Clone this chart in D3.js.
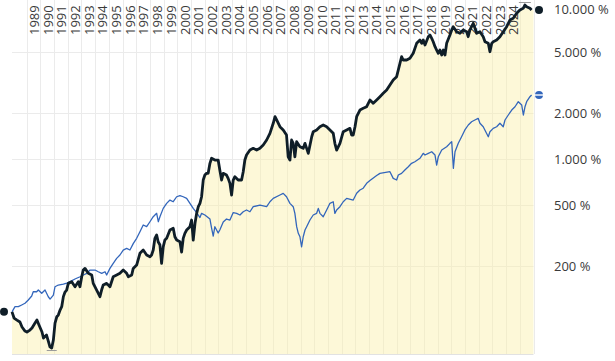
<!DOCTYPE html>
<html><head><meta charset="utf-8">
<script src="https://cdn.jsdelivr.net/npm/d3@7/dist/d3.min.js"></script>
<style>body{margin:0;background:#fff}svg{display:block}</style>
</head><body><svg id="c" width="615" height="361"></svg>
<script>
const blackYears=[1987.93,1988.08,1988.29,1988.51,1988.66,1988.88,1989.02,1989.24,1989.39,1989.61,1989.75,1989.90,1990.12,1990.23,1990.45,1990.56,1990.70,1990.83,1990.95,1991.07,1991.20,1991.31,1991.44,1991.56,1991.68,1991.80,1991.92,1992.04,1992.29,1992.53,1992.77,1992.89,1993.02,1993.13,1993.26,1993.50,1993.75,1993.86,1994.11,1994.35,1994.47,1994.59,1994.84,1995.08,1995.20,1995.32,1995.57,1995.81,1996.05,1996.30,1996.42,1996.67,1996.78,1997.03,1997.27,1997.51,1997.76,1998.00,1998.12,1998.24,1998.36,1998.49,1998.60,1998.73,1998.85,1998.97,1999.09,1999.22,1999.46,1999.70,1999.82,1999.95,2000.19,2000.31,2000.43,2000.55,2000.68,2000.92,2001.04,2001.16,2001.29,2001.41,2001.53,2001.65,2001.77,2001.89,2002.01,2002.13,2002.25,2002.38,2002.50,2002.74,2002.98,2003.10,2003.23,2003.35,2003.59,2003.71,2003.84,2003.96,2004.08,2004.20,2004.44,2004.69,2004.81,2004.93,2005.05,2005.30,2005.54,2005.79,2006.03,2006.27,2006.52,2006.76,2007.00,2007.13,2007.25,2007.49,2007.73,2007.97,2008.09,2008.22,2008.34,2008.46,2008.58,2008.71,2008.95,2009.19,2009.32,2009.56,2009.81,2009.92,2010.17,2010.41,2010.65,2010.90,2011.14,2011.38,2011.50,2011.63,2011.87,2012.11,2012.36,2012.60,2012.72,2012.84,2012.97,2013.09,2013.33,2013.57,2013.82,2014.06,2014.30,2014.55,2014.79,2015.03,2015.28,2015.52,2015.76,2016.01,2016.25,2016.37,2016.49,2016.74,2016.98,2017.22,2017.47,2017.71,2017.84,2017.95,2018.08,2018.32,2018.44,2018.57,2018.68,2018.81,2018.93,2019.05,2019.17,2019.30,2019.42,2019.54,2019.66,2019.90,2020.03,2020.14,2020.39,2020.63,2020.87,2021.12,2021.23,2021.36,2021.60,2021.73,2021.85,2022.09,2022.33,2022.46,2022.70,2022.82,2022.95,2023.06,2023.31,2023.55,2023.79,2024.04,2024.28,2024.52,2024.77,2025.01,2025.25,2025.37,2025.50,2025.74,2025.86];
const blackValues=[100,91.1,88.4,85.8,79.6,74.9,73.8,76.0,78.4,84.5,88.4,82.0,73.8,67.4,70.5,65.4,59.1,58.0,65.4,84.5,92.9,95.3,102.8,108.1,125.8,134.8,138.9,153.6,157.4,146.0,157.4,146.0,169.8,187.8,192.5,178.7,174.2,153.6,138.9,125.6,138.9,149.8,153.6,146.0,157.4,169.8,174.2,178.7,187.8,178.7,169.8,174.2,192.5,202.5,241.6,253.8,235.4,229.4,235.4,253.8,302.8,318.2,287.5,273.7,207.6,266.4,295.1,302.8,343.2,352,310,295.1,287.5,246.2,302.8,326.5,343.2,360.8,399,295.1,379.5,441.3,487.8,513,566.5,729,786,806,806,937.5,1011,985,985,847,729,806,786,747,693,581,729,766,729,729,826,985,1062,1145,1175,1145,1175,1235,1332,1473,1713,1893,1801,1627,1549,1436,1035,985,1332,1267,1035,1298,1203,1175,1267,1090,1399,1509,1549,1627,1670,1627,1549,1473,1267,1145,1267,1509,1549,1588,1436,1436,1627,1893,2092,2146,2199,2433,2314,2433,2557,2692,2828,3051,3290,3458,4229,4672,4445,4445,4560,4917,5715,6011,5715,6011,5574,6317,6482,6163,5857,5432,5169,4917,5169,4794,5169,4794,5715,6482,6989,7345,6809,6652,6989,6809,6317,6989,7730,7169,6652,6809,6317,5857,5715,5036,5715,5857,6011,6317,6809,7345,8121,8330,8983,9443,9688,10183,9920,9688,9443];
const blueYears=[1987.93,1988.15,1988.39,1988.64,1988.88,1989.12,1989.37,1989.48,1989.73,1989.85,1990.10,1990.34,1990.58,1990.71,1990.95,1991.07,1991.31,1991.68,1991.93,1992.17,1992.53,1992.90,1993.14,1993.39,1993.63,1993.99,1994.23,1994.48,1994.72,1994.84,1995.08,1995.32,1995.57,1995.81,1996.05,1996.30,1996.54,1996.79,1997.03,1997.27,1997.51,1997.76,1998.00,1998.24,1998.49,1998.61,1998.73,1998.97,1999.22,1999.46,1999.70,1999.95,2000.19,2000.43,2000.68,2000.92,2001.16,2001.41,2001.65,2001.77,2002.01,2002.38,2002.50,2002.62,2002.74,2002.98,2003.10,2003.35,2003.59,2003.84,2004.08,2004.33,2004.57,2004.81,2005.05,2005.30,2005.54,2006.03,2006.52,2006.76,2007.00,2007.49,2007.73,2007.97,2008.22,2008.46,2008.58,2008.71,2008.83,2008.95,2009.07,2009.19,2009.32,2009.44,2009.68,2009.92,2010.17,2010.29,2010.41,2010.65,2010.90,2011.14,2011.38,2011.50,2011.63,2011.87,2012.11,2012.36,2012.84,2013.09,2013.33,2013.57,2013.82,2014.06,2014.55,2014.79,2015.52,2015.76,2016.01,2016.13,2016.37,2016.61,2016.86,2017.10,2017.34,2017.71,2017.95,2018.08,2018.32,2018.57,2018.81,2018.93,2019.05,2019.30,2019.66,2019.90,2020.03,2020.15,2020.27,2020.51,2020.63,2020.75,2020.99,2021.24,2021.48,2021.72,2021.96,2022.09,2022.33,2022.45,2022.70,2022.82,2023.06,2023.31,2023.55,2023.79,2023.92,2024.16,2024.41,2024.65,2024.89,2025.14,2025.26,2025.38,2025.50,2025.74,2025.86];
const blueValues=[100,108.1,108.1,110.9,113.8,119.6,126.9,135.4,135.4,138.9,132.2,138.9,125.6,121.3,128.8,146.0,149.8,152.1,154.4,157.8,164.0,169.8,174.2,178.7,187.8,187.8,183.0,178.7,183.0,174.2,192.5,207.8,224,235.5,253.8,260.3,253.8,280.8,302.8,334.5,370,360.8,388.8,419.3,441.3,388.8,419.3,475.5,513,539,525.5,566.5,577,566.5,553,513,475.5,446.5,414.3,441.3,430.3,405,353.6,313.5,360.8,328,343.2,387.2,405,399,446.5,441.3,430.3,452,464,452,487.8,500,487.8,525.5,553,581.4,596.5,566.5,513,487.8,441.3,360.8,326.5,310,266.4,310,343.2,360.8,399,430.3,441.3,475.5,441.3,419.3,464,513,525.5,441.3,464,487.8,525.5,553,539,596.5,627,644,693.5,723.5,780,806,826,747.5,729,786,806,847.6,891,937.5,960,1011,1090,1062,1090,1116,1062,913.5,1035,1145,1203,1267,1298,869.5,1116,1267,1332,1399,1549,1670,1754,1801,1847,1713,1627,1549,1399,1509,1588,1627,1713,1627,1801,1941,2092,2199,2372,2256,1941,2199,2372,2557,2624];
const yearLabels=d3.range(1989,2025);
const gridYears=d3.range(1989,2027);
const yTicks=[200,500,1000,2000,5000,10000];
const yTickLabels=["200 %","500 %","1.000 %","2.000 %","5.000 %","10.000 %"];
const gridTicks=[200,500,1000,2000,5000];

const svg=d3.select("#c");
const x=d3.scaleLinear().domain([1987.93,2026]).range([12,533.5]);
const y=d3.scaleLog().domain([53,10980]).range([354,0]);
const FONT="'Open Sans', 'Noto Sans', sans-serif";

const black=blackYears.map((t,i)=>[t,blackValues[i]]);
const blue=blueYears.map((t,i)=>[t,blueValues[i]]);

// grid
const g=svg.append("g");
g.selectAll("line.v").data(gridYears).join("line")
  .attr("x1",d=>Math.round(x(d))+0.5).attr("x2",d=>Math.round(x(d))+0.5)
  .attr("y1",0).attr("y2",354).attr("stroke","#ebebeb").attr("stroke-width",1);
g.selectAll("line.h").data(gridTicks).join("line")
  .attr("x1",12).attr("x2",533.5)
  .attr("y1",d=>Math.round(y(d))+0.5).attr("y2",d=>Math.round(y(d))+0.5)
  .attr("stroke","#ebebeb").attr("stroke-width",1);

// area
const areaData=black.concat([[2026,blackValues[blackValues.length-1]]]);
svg.append("path").datum(areaData)
  .attr("d",d3.area().x(d=>x(d[0])).y0(354).y1(d=>y(d[1])))
  .attr("fill","rgba(250,240,168,0.45)");

// bottom line
svg.append("line").attr("x1",12).attr("x2",533.5).attr("y1",354.5).attr("y2",354.5)
  .attr("stroke","#e2e2e2").attr("stroke-width",1);

// year labels
svg.append("g").selectAll("text").data(yearLabels).join("text")
  .attr("transform",d=>`translate(${x(d+1)-1.5},35) rotate(-90)`)
  .attr("text-anchor","start").attr("font-family",FONT).attr("font-size",13)
  .attr("fill","#3a3a3a").text(d=>d);

// lines
const line=d3.line().x(d=>x(d[0])).y(d=>y(d[1]));
svg.append("path").datum(blue).attr("d",line).attr("fill","none")
  .attr("stroke","#3366bb").attr("stroke-width",1.3).attr("stroke-linejoin","round");
svg.append("path").datum(black).attr("d",line).attr("fill","none")
  .attr("stroke","#0f1e28").attr("stroke-width",2.8).attr("stroke-linejoin","round");

// min / max markers
const minI=d3.minIndex(blackValues), maxI=d3.maxIndex(blackValues);
svg.append("line").attr("x1",x(blackYears[minI])-5).attr("x2",x(blackYears[minI])+5)
  .attr("y1",y(blackValues[minI])+2.5).attr("y2",y(blackValues[minI])+2.5)
  .attr("stroke","#9a9a9a").attr("stroke-width",1);
svg.append("line").attr("x1",x(blackYears[maxI])-6).attr("x2",x(blackYears[maxI])+6)
  .attr("y1",y(blackValues[maxI])-2.5).attr("y2",y(blackValues[maxI])-2.5)
  .attr("stroke","#9a9a9a").attr("stroke-width",1);

// end markers
svg.append("circle").attr("cx",4).attr("cy",y(blackValues[0])).attr("r",4).attr("fill","#0f1e28");
svg.append("circle").attr("cx",539).attr("cy",y(blackValues[blackValues.length-1])).attr("r",4).attr("fill","#0f1e28");
const by=y(blueValues[blueValues.length-1]);
svg.append("circle").attr("cx",539).attr("cy",by).attr("r",4).attr("fill","#3366bb");
svg.append("line").attr("x1",534).attr("x2",544).attr("y1",by).attr("y2",by).attr("stroke","#fff").attr("stroke-width",1.4);

// right axis labels
svg.append("g").selectAll("text").data(yTicks).join("text")
  .attr("x",554).attr("y",d=>Math.max(y(d),9.6)).attr("dy","0.36em")
  .attr("font-family",FONT).attr("font-size",13).attr("fill","#3a3a3a")
  .text((d,i)=>yTickLabels[i]);
</script></body></html>
